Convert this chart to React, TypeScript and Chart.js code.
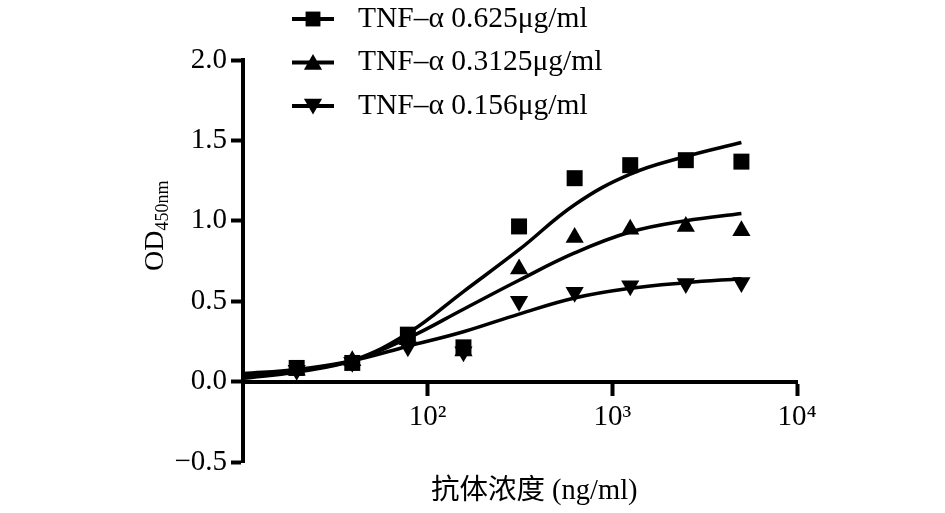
import { useEffect, useRef } from "react";
import { Chart, registerables, type ChartConfiguration, type Plugin } from "chart.js";
import { drawPoint } from "chart.js/helpers";

Chart.register(...registerables);

const FONT = '"Liberation Serif", "Times New Roman", "Noto Sans CJK SC", serif';

// measured points (x = antibody concentration, ng/ml)
const concentrations = [19.53, 39.06, 78.13, 156.25, 312.5, 625, 1250, 2500, 5000];
const od0625 = [0.085, 0.116, 0.292, 0.213, 0.965, 1.265, 1.346, 1.377, 1.368];
const od03125 = [0.07, 0.13, 0.26, 0.19, 0.7, 0.896, 0.948, 0.965, 0.938];
const od0156 = [0.07, 0.12, 0.217, 0.185, 0.5, 0.555, 0.596, 0.61, 0.617];

// fitted curves
const curveX = [10, 19.53, 39.06, 78.13, 156.25, 312.5, 625, 1250, 2500, 5000];
const fit0625 = [0.02, 0.06, 0.13, 0.3, 0.56, 0.82, 1.1, 1.29, 1.4, 1.487];
const fit03125 = [0.035, 0.065, 0.13, 0.27, 0.45, 0.63, 0.8, 0.93, 1.0, 1.045];
const fit0156 = [0.05, 0.075, 0.13, 0.22, 0.31, 0.42, 0.52, 0.58, 0.615, 0.64];

const seriesLabels = ["TNF\u2013\u03b1 0.625\u03bcg/ml", "TNF\u2013\u03b1 0.3125\u03bcg/ml", "TNF\u2013\u03b1 0.156\u03bcg/ml"];
const markerStyles = ["rect", "triangle", "triangle"] as const;
const markerRotations = [0, 0, 180];

const xTickValues = [100, 1000, 10000];
const xTickLabels: Record<number, string> = { 100: "10\u00b2", 1000: "10\u00b3", 10000: "10\u2074" };
const xTitle = "抗体浓度 (ng/ml)";

const pts = (xs: number[], ys: number[]) => xs.map((x, i) => ({ x, y: ys[i] }));

// stacked legend: line + marker, like the original
const legendPlugin: Plugin = {
  id: "stackedLegend",
  afterDraw(chart) {
    const ctx = chart.ctx;
    ctx.save();
    seriesLabels.forEach((label, i) => {
      const y = 19 + i * 43.5;
      ctx.strokeStyle = "#000";
      ctx.lineWidth = 4;
      ctx.beginPath();
      ctx.moveTo(292, y);
      ctx.lineTo(334, y);
      ctx.stroke();
      ctx.fillStyle = "#000";
      drawPoint(ctx, { pointStyle: markerStyles[i], radius: 10.5, rotation: markerRotations[i], borderWidth: 0 } as any, 313, y + (i === 0 ? 0 : i === 1 ? 2 : -2));
      ctx.font = `29.5px ${FONT}`;
      ctx.textAlign = "left";
      ctx.textBaseline = "middle";
      ctx.fillText(label, 358, y);
    });
    ctx.restore();
  },
};

// OD with subscript 450nm
const yTitlePlugin: Plugin = {
  id: "odTitle",
  afterDraw(chart) {
    const ctx = chart.ctx;
    ctx.save();
    ctx.translate(163, 271);
    ctx.rotate(-Math.PI / 2);
    ctx.fillStyle = "#000";
    ctx.textAlign = "left";
    ctx.textBaseline = "alphabetic";
    ctx.font = `28px ${FONT}`;
    ctx.fillText("OD", 0, 0);
    const w = ctx.measureText("OD").width;
    ctx.font = `18px ${FONT}`;
    ctx.fillText("450nm", w, 5);
    ctx.restore();
  },
};

const axisGrid = {
  display: true,
  drawOnChartArea: false,
  drawTicks: true,
  tickLength: 12,
  tickWidth: 4,
  tickColor: "#000",
};
const axisBorder = { display: true, color: "#000", width: 4 };

export default function App() {
  const canvasRef = useRef<HTMLCanvasElement>(null);
  const chartRef = useRef<Chart | null>(null);

  useEffect(() => {
    const canvas = canvasRef.current;
    if (!canvas) return;
    chartRef.current?.destroy();

    const curve = (ys: number[]) => ({
      data: pts(curveX, ys),
      showLine: true,
      borderColor: "#000",
      borderWidth: 3.5,
      pointRadius: 0,
      tension: 0.4,
      fill: false,
      order: 2,
    });
    const marks = (ys: number[], i: number) => ({
      label: seriesLabels[i],
      data: pts(concentrations, ys),
      showLine: false,
      pointStyle: markerStyles[i],
      rotation: markerRotations[i],
      pointRadius: i === 0 ? 11.3 : 10.5,
      backgroundColor: "#000",
      borderColor: "#000",
      borderWidth: 0,
      order: 1,
    });

    const config: ChartConfiguration = {
      type: "scatter",
      data: {
        datasets: [
          curve(fit0625),
          curve(fit03125),
          curve(fit0156),
          marks(od0625, 0),
          marks(od03125, 1),
          marks(od0156, 2),
        ] as any,
      },
      options: {
        responsive: true,
        maintainAspectRatio: false,
        animation: false,
        layout: { padding: { top: 60, right: 148, bottom: 51, left: 0 } },
        plugins: { legend: { display: false }, tooltip: { enabled: false } },
        scales: {
          x: {
            type: "logarithmic",
            min: 10,
            max: 10000,
            position: { y: 0 } as any,
            afterBuildTicks: (s) => {
              s.ticks = xTickValues.map((v) => ({ value: v }));
            },
            afterFit: (s) => {
              s.height = 127;
            },
            grid: axisGrid,
            border: axisBorder,
            ticks: {
              color: "#000",
              font: { family: FONT, size: 29 },
              padding: 6,
              maxRotation: 0,
              autoSkip: false,
              callback: (v) => xTickLabels[Number(v)] ?? "",
            },
            title: {
              display: true,
              text: "\u2002\u2002" + xTitle,
              color: "#000",
              font: { family: FONT, size: 28.5 },
              padding: 0,
            },
          },
          y: {
            type: "linear",
            position: "left",
            min: -0.5,
            max: 2.0,
            afterFit: (s) => {
              s.width = 243;
            },
            grid: axisGrid,
            border: axisBorder,
            ticks: {
              stepSize: 0.5,
              color: "#000",
              font: { family: FONT, size: 29 },
              padding: 4,
              callback: (v) => {
                const n = Number(v);
                return (n < 0 ? "\u2212" : "") + Math.abs(n).toFixed(1);
              },
            },
          },
        },
      },
      plugins: [legendPlugin, yTitlePlugin],
    };

    chartRef.current = new Chart(canvas, config);
    return () => chartRef.current?.destroy();
  }, []);

  return (
    <div style={{ position: "absolute", left: 0, top: 0, width: 945, height: 513, background: "#fff" }}>
      <canvas ref={canvasRef} />
    </div>
  );
}
